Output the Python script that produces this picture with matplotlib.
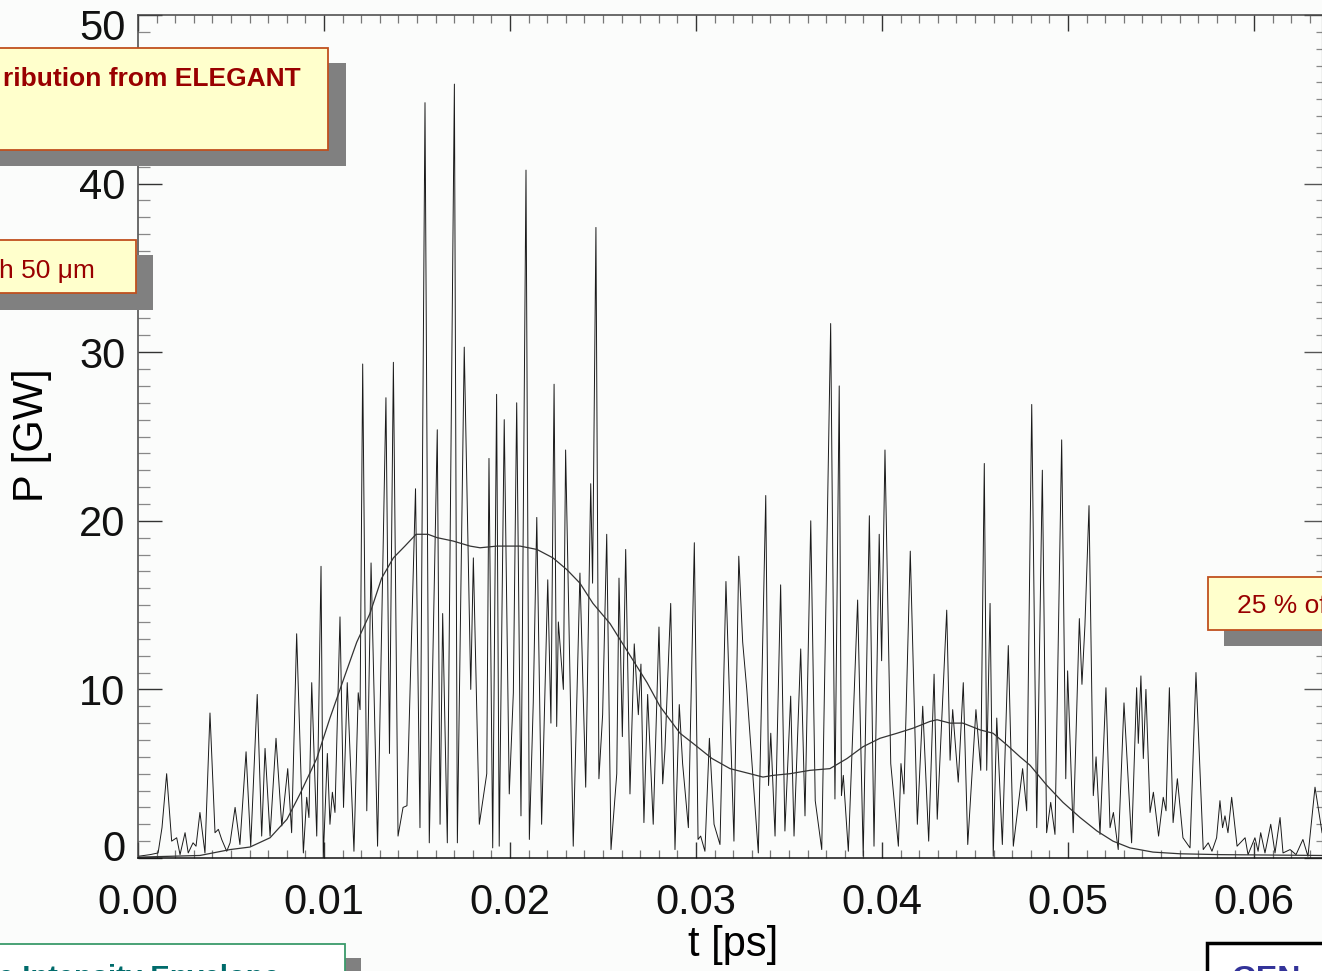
import matplotlib
matplotlib.use('Agg')
import matplotlib.pyplot as plt
from matplotlib.patches import Rectangle
from matplotlib.ticker import MultipleLocator
from matplotlib.transforms import ScaledTranslation

plt.rcParams['font.family'] = ['Liberation Sans', 'DejaVu Sans']

# power profile vertices (peaks and troughs), time in fs, power in GW
t_fs = [0.00, 0.65, 1.08, 1.29, 1.54, 1.81, 2.08, 2.26, 2.53, 2.70, 2.96, 3.12, 3.33, 3.60,
        3.87, 4.14, 4.32, 4.50, 4.77, 4.95, 5.22, 5.48, 5.81, 6.06, 6.41, 6.65, 6.83, 7.10,
        7.42, 7.73, 8.05, 8.26, 8.53, 8.89, 9.07, 9.19, 9.34, 9.61, 9.84, 9.96, 10.18, 10.32,
        10.45, 10.59, 10.86, 11.05, 11.25, 11.61, 11.84, 11.94, 12.08, 12.30, 12.53, 12.88,
        13.33, 13.52, 13.73, 13.98, 14.25, 14.46, 14.92, 15.16, 15.43, 15.66, 16.09, 16.24,
        16.38, 16.63, 17.01, 17.17, 17.54, 17.89, 18.03, 18.35, 18.75, 18.87, 19.07, 19.28,
        19.42, 19.69, 19.96, 20.18, 20.36, 20.59, 20.86, 21.04, 21.25, 21.44, 21.70, 22.03,
        22.20, 22.37, 22.51, 22.60, 22.87, 22.99, 23.40, 23.76, 24.07, 24.34, 24.44, 24.62,
        24.78, 24.98, 25.20, 25.43, 25.74, 25.86, 26.04, 26.22, 26.45, 26.68, 26.90, 27.04,
        27.20, 27.40, 27.70, 28.01, 28.21, 28.33, 28.64, 28.87, 29.10, 29.28, 29.59, 29.91,
        30.11, 30.25, 30.48, 30.72, 30.97, 31.29, 31.61, 32.04, 32.30, 32.51, 32.73, 33.35,
        33.75, 33.90, 34.02, 34.25, 34.55, 34.78, 35.09, 35.27, 35.63, 35.86, 36.17, 36.41,
        36.76, 37.24, 37.47, 37.70, 37.82, 37.92, 38.19, 38.69, 38.99, 39.32, 39.57, 39.85,
        39.98, 40.16, 40.47, 40.88, 41.02, 41.18, 41.52, 41.90, 42.19, 42.51, 42.80, 42.97,
        43.48, 43.66, 43.80, 44.10, 44.37, 44.61, 45.05, 45.31, 45.50, 45.63, 45.81, 45.98,
        46.17, 46.47, 46.79, 47.06, 47.56, 47.78, 48.05, 48.32, 48.62, 48.85, 49.07, 49.30,
        49.66, 49.88, 49.98, 50.28, 50.61, 50.75, 50.91, 51.13, 51.36, 51.51, 51.72, 52.04,
        52.26, 52.44, 52.70, 53.01, 53.42, 53.69, 53.78, 53.92, 54.05, 54.19, 54.41, 54.59,
        54.87, 55.12, 55.27, 55.45, 55.65, 55.88, 56.18, 56.56, 56.88, 57.27, 57.54, 57.74,
        57.99, 58.17, 58.31, 58.44, 58.60, 58.80, 59.09, 59.52, 59.68, 60.05, 60.22, 60.36,
        60.59, 60.90, 61.13, 61.40, 61.56, 61.94, 62.26, 62.63, 62.90, 63.28, 63.66]
p_gw = [0.1, 0.2, 0.3, 1.8, 5.0, 1.0, 1.2, 0.2, 1.5, 0.3, 0.9, 0.7, 2.7, 0.3,
        8.6, 1.5, 1.7, 1.1, 0.4, 0.9, 3.0, 0.8, 6.3, 0.7, 9.7, 1.3, 6.5, 1.3,
        7.1, 1.9, 5.3, 1.5, 13.3, 0.3, 3.6, 2.4, 10.4, 1.3, 17.3, 0.0, 6.2, 2.0,
        3.9, 2.7, 14.3, 3.0, 10.4, 0.4, 9.8, 8.8, 29.3, 2.8, 17.5, 0.7,
        27.3, 6.2, 29.4, 1.3, 3.0, 3.1, 21.9, 1.8, 44.8, 0.9, 25.4, 2.0,
        14.5, 0.9, 45.9, 0.9, 30.3, 10.0, 17.8, 2.0, 5.0, 23.7, 0.6, 27.5,
        0.7, 26.0, 3.8, 9.8, 27.0, 2.5, 40.8, 1.1, 9.2, 20.2, 2.0, 16.5,
        8.0, 28.1, 7.8, 14.0, 10.0, 24.2, 0.7, 16.9, 4.2, 22.2, 16.3, 37.4,
        4.7, 8.5, 19.2, 0.5, 5.0, 16.6, 7.2, 18.3, 3.8, 12.7, 8.5, 11.5,
        2.1, 9.7, 2.0, 13.7, 4.4, 6.4, 15.1, 0.5, 9.1, 5.6, 1.8, 18.7,
        1.1, 1.3, 0.4, 7.1, 2.0, 0.8, 16.4, 1.0, 17.9, 12.8, 10.0, 0.3,
        21.5, 4.3, 7.4, 1.3, 16.2, 1.6, 9.6, 1.3, 12.4, 2.5, 20.0, 3.4,
        0.5, 31.7, 3.5, 28.0, 3.7, 4.9, 0.4, 15.3, 0.1, 20.3, 0.7, 19.2,
        11.7, 24.2, 5.6, 0.7, 5.6, 3.8, 18.2, 2.0, 9.0, 1.0, 10.9, 2.3,
        14.7, 5.8, 8.8, 4.5, 10.4, 0.8, 8.8, 5.2, 23.4, 5.2, 15.1, 0.1,
        8.3, 0.8, 12.6, 0.7, 5.3, 2.8, 26.9, 1.8, 23.0, 1.5, 3.3, 1.4,
        24.8, 4.7, 11.1, 1.5, 14.2, 10.3, 13.8, 20.9, 3.7, 6.0, 1.4, 10.1,
        1.8, 2.7, 0.5, 9.2, 0.9, 10.1, 6.8, 10.8, 5.9, 10.0, 2.7, 3.9,
        1.3, 3.6, 2.8, 10.1, 2.1, 4.7, 1.2, 0.6, 11.0, 0.5, 0.9, 0.4,
        1.2, 3.4, 1.8, 2.5, 1.5, 3.6, 0.7, 1.2, 0.2, 1.2, 0.4, 1.5,
        0.3, 2.0, 0.3, 2.4, 0.3, 0.5, 0.2, 1.1, 0.1, 4.2, 1.5]

# smooth intensity envelope
env_t_fs = [0.00, 3.33, 4.95, 6.02, 7.10, 8.01, 8.71, 9.61, 10.32, 11.02, 11.76, 12.47,
            13.10, 13.73, 14.35, 14.95, 15.59, 16.08, 16.94, 17.85, 18.39, 19.30, 20.54,
            21.45, 22.31, 23.06, 23.76, 24.46, 25.38, 26.29, 27.37, 28.06, 29.14, 29.84,
            30.86, 31.83, 32.90, 33.60, 34.14, 35.05, 36.13, 37.20, 38.12, 38.98, 39.89,
            40.81, 41.67, 42.58, 42.96, 43.66, 44.35, 45.27, 45.97, 46.72, 47.42, 47.96,
            48.87, 49.73, 50.65, 51.56, 52.42, 53.33, 54.57, 56.02, 58.17, 63.66]
env_p_gw = [0.05, 0.15, 0.5, 0.65, 1.2, 2.3, 3.8, 5.9, 8.3, 10.5, 12.8, 14.5,
            16.6, 17.8, 18.5, 19.2, 19.2, 19.0, 18.8, 18.5, 18.4, 18.5, 18.5,
            18.3, 17.8, 17.1, 16.3, 15.1, 13.9, 12.3, 10.4, 9.0, 7.4, 6.8,
            5.9, 5.3, 5.0, 4.8, 4.9, 5.0, 5.2, 5.3, 5.9, 6.6, 7.1,
            7.4, 7.7, 8.1, 8.2, 8.0, 8.0, 7.6, 7.4, 6.7, 6.0, 5.5,
            4.3, 3.3, 2.4, 1.6, 1.0, 0.6, 0.35, 0.25, 0.2, 0.15]

xticks = [0.00, 0.01, 0.02, 0.03, 0.04, 0.05, 0.06]
yticks = [0, 10, 20, 30, 40, 50]

W, H = 1322, 971
bg = '#fbfcfb'
fig = plt.figure(figsize=(W / 100, H / 100), dpi=100, facecolor=bg)
ax = fig.add_axes([138 / W, 1 - 858 / H, 1 - 138 / W, (858 - 15) / H])
ax.set_facecolor(bg)

t_ps = [v / 1000 for v in t_fs]
env_t_ps = [v / 1000 for v in env_t_fs]
ax.plot(t_ps, p_gw, color='#1a1a1a', lw=0.7)
ax.plot(env_t_ps, env_p_gw, color='#333333', lw=0.9)

ax.set_xlim(0, 1184 / 18600)
ax.set_ylim(0, 50)
ax.set_xticks(xticks)
ax.set_xticklabels(['%.2f' % v for v in xticks])
ax.set_yticks(yticks)
ax.xaxis.set_minor_locator(MultipleLocator(0.001))
ax.yaxis.set_minor_locator(MultipleLocator(1))

for s in ax.spines.values():
    s.set_color('#444444')
    s.set_linewidth(1.1)
ax.spines['bottom'].set_color('#111111')
ax.spines['right'].set_visible(False)

ax.tick_params(axis='both', which='both', direction='in', labelsize=30, colors='#111111')
ax.tick_params(axis='x', which='major', length=11.5, width=1.0, top=True, pad=18, color='#333333')
ax.tick_params(axis='x', which='minor', length=5.5, width=0.9, top=True, color='#777777')
ax.tick_params(axis='y', which='major', length=17, width=1.0, right=False, pad=9, color='#333333')
ax.tick_params(axis='y', which='minor', length=8.6, width=0.9, right=False, color='#888888')

sec = ax.secondary_yaxis('right')
sec.set_yticks(yticks)
sec.yaxis.set_minor_locator(MultipleLocator(1))
sec.tick_params(axis='y', which='major', direction='in', length=13, width=1.0, labelright=False, color='#555555')
sec.tick_params(axis='y', which='minor', direction='in', length=4, width=0.9, color='#888888')
sec.spines['right'].set_color('#444444')

ax.set_xlabel('t [ps]', fontsize=30)
ax.xaxis.set_label_coords((733 - 138) / 1184, (858 - 945) / 843)
ax.xaxis.label.set_va('center')
ax.set_ylabel('P [GW]', fontsize=30)
ax.yaxis.set_label_coords((32 - 138) / 1184, (858 - 435) / 843)
ax.yaxis.label.set_va('center')

# the IDL-style clamped end labels on the y axis
yt = ax.yaxis.get_major_ticks()
yt[0].label1.set_transform(yt[0].label1.get_transform() + ScaledTranslation(0, 0.13, fig.dpi_scale_trans))
yt[-1].label1.set_transform(yt[-1].label1.get_transform() + ScaledTranslation(0, -0.09, fig.dpi_scale_trans))


def box(x0, y0, x1, y1, fc, ec=None, lw=0):
    r = Rectangle((x0 / W, 1 - y1 / H), (x1 - x0) / W, (y1 - y0) / H,
                  transform=fig.transFigure, facecolor=fc,
                  edgecolor=ec if ec else 'none', linewidth=lw, zorder=5)
    fig.add_artist(r)


def label(x, y, s, **kw):
    fig.text(x / W, 1 - y / H, s, va='baseline', zorder=6, **kw)


red = '#990000'
edge = '#c0501e'
# overlay boxes from the slide
box(-10, 63, 346, 166, '#808080')
box(-10, 48, 328, 150, '#ffffcc', edge, 1.3)
label(301, 86, 'ribution from ELEGANT', ha='right', color=red, fontsize=19, fontweight='bold')

box(-10, 255, 153, 310, '#808080')
box(-10, 240, 136, 293, '#ffffcc', edge, 1.3)
label(95, 278, 'h 50 \u03bcm', ha='right', color=red, fontsize=19)

box(1224, 593, 1340, 646, '#808080')
box(1208, 577, 1340, 630, '#ffffcc', edge, 1.3)
label(1237, 613, '25 % of', ha='left', color=red, fontsize=19)

box(-10, 958, 361, 990, '#808080')
box(-10, 944, 345, 990, '#ffffff', '#3a9a6a', 1.3)
label(-2, 986, 'e Intensity Envelope', ha='left', color='#006b6b', fontsize=21, fontweight='bold')

box(1207, 943, 1340, 990, '#ffffff', '#000000', 2.5)
label(1232, 988, 'GEN', ha='left', color='#333399', fontsize=23, fontweight='bold')

fig.savefig('out.png', dpi=100, facecolor=bg)
